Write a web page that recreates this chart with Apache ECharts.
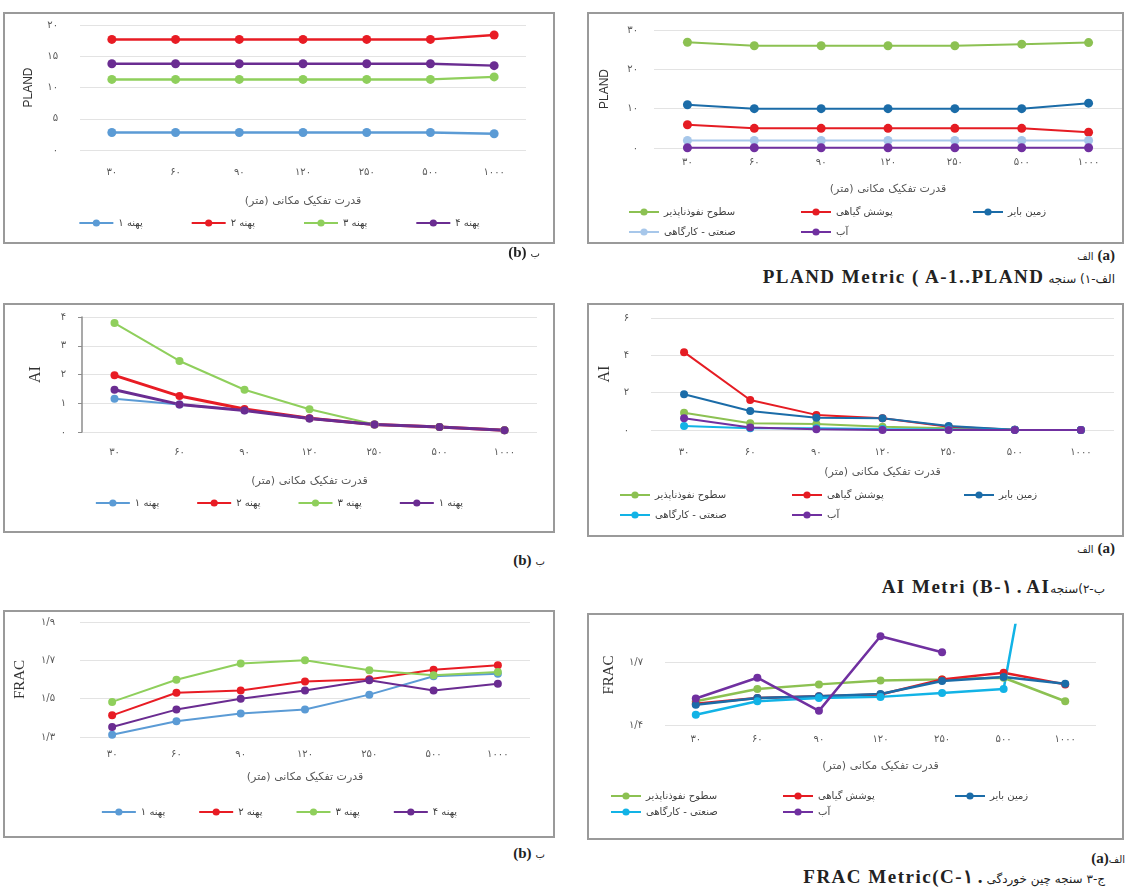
<!DOCTYPE html>
<html>
<head>
<meta charset="utf-8">
<script src="https://cdn.jsdelivr.net/npm/echarts@6/dist/echarts.min.js"></script>
<style>
  body { margin: 0; background: #fff; width: 1125px; height: 887px; position: relative; overflow: hidden; }
  .chart { position: absolute; direction: rtl; }
  .frame { position: absolute; border: 2px solid #9a9a9a; box-sizing: border-box; pointer-events: none; }
  .txt { position: absolute; white-space: nowrap; color: #222; line-height: 22px; }
  .lat { font-family: 'Liberation Serif'; font-weight: bold; font-size: 15px; }
  .big { font-size: 19px; letter-spacing: 1.5px; }
  .fa { font-family: 'DejaVu Sans'; font-size: 10px; unicode-bidi: isolate; }
  .fa12 { font-size: 12px; }
</style>
</head>
<body>
<div id="c1" class="chart"></div>
<div id="c2" class="chart"></div>
<div id="c3" class="chart"></div>
<div id="c4" class="chart"></div>
<div id="c5" class="chart"></div>
<div id="c6" class="chart"></div>

<div class="txt" style="right:585px;top:241px"><span class="lat">(b)</span> <span class="fa" dir="rtl">ب</span></div>
<div class="txt" style="right:10px;top:244px"><span class="fa" dir="rtl">الف</span> <span class="lat">(a)</span></div>
<div class="txt" style="right:10px;top:266px"><span class="lat big">PLAND Metric ( A-1..PLAND</span> <span class="fa fa12" dir="rtl">الف-۱) سنجه</span></div>

<div class="txt" style="right:580px;top:549px"><span class="lat">(b)</span> <span class="fa" dir="rtl">ب</span></div>
<div class="txt" style="right:10px;top:537px"><span class="fa" dir="rtl">الف</span> <span class="lat">(a)</span></div>
<div class="txt" style="right:20px;top:576px"><span class="lat big">AI Metri (B-۱ . AI</span><span class="fa fa12" dir="rtl">ب-۲)سنجه</span></div>

<div class="txt" style="right:580px;top:842px"><span class="lat">(b)</span> <span class="fa" dir="rtl">ب</span></div>
<div class="txt" style="right:0px;top:847px"><span class="lat">(a)</span><span class="fa" dir="rtl">الف</span></div>
<div class="txt" style="right:20px;top:866px"><span class="lat big">FRAC Metric(C-۱ .</span> <span class="fa fa12" dir="rtl">ج-۳ سنجه چین خوردگی</span></div>

<script>
// ---- data ----
const xCats = ['۳۰', '۶۰', '۹۰', '۱۲۰', '۲۵۰', '۵۰۰', '۱۰۰۰'];
const zoneNames = ['پهنه ۱', 'پهنه ۲', 'پهنه ۳', 'پهنه ۴'];
const landNames = ['سطوح نفوذناپذیر', 'پوشش گیاهی', 'زمین بایر', 'صنعتی - کارگاهی', 'آب'];
const xName = 'قدرت تفکیک مکانی (متر)';

// PLAND (b) zones
const plandZone1 = [2.8, 2.8, 2.8, 2.8, 2.8, 2.8, 2.6];
const plandZone2 = [17.7, 17.7, 17.7, 17.7, 17.7, 17.7, 18.4];
const plandZone3 = [11.3, 11.3, 11.3, 11.3, 11.3, 11.3, 11.7];
const plandZone4 = [13.8, 13.8, 13.8, 13.8, 13.8, 13.8, 13.5];

// PLAND (a) land cover
const plandImperv = [26.9, 26.0, 26.0, 26.0, 26.0, 26.4, 26.8];
const plandVeg = [5.9, 5.0, 5.0, 5.0, 5.0, 5.0, 4.0];
const plandBare = [11.0, 10.0, 10.0, 10.0, 10.0, 10.0, 11.4];
const plandInd = [1.9, 1.9, 1.9, 1.9, 1.9, 1.9, 1.9];
const plandWater = [0.05, 0.05, 0.05, 0.05, 0.05, 0.05, 0.05];

// AI (b) zones
const aiZone1 = [1.16, 0.96, 0.76, 0.47, 0.26, 0.17, 0.06];
const aiZone2 = [1.97, 1.25, 0.8, 0.48, 0.26, 0.17, 0.06];
const aiZone3 = [3.79, 2.47, 1.47, 0.79, 0.26, 0.17, 0.06];
const aiZone4 = [1.47, 0.96, 0.75, 0.47, 0.26, 0.17, 0.06];

// AI (a) land cover
const aiImperv = [0.93, 0.36, 0.32, 0.18, 0.09, 0.02, 0];
const aiVeg = [4.17, 1.61, 0.81, 0.63, 0.18, 0.02, 0];
const aiBare = [1.92, 1.02, 0.66, 0.63, 0.21, 0.02, 0];
const aiInd = [0.21, 0.09, 0.09, 0.05, 0.03, 0.01, 0];
const aiWater = [0.63, 0.14, 0.04, 0, 0, 0, 0];

// FRAC (b) zones
const fracZone1 = [1.312, 1.382, 1.422, 1.443, 1.521, 1.617, 1.630];
const fracZone2 = [1.413, 1.531, 1.543, 1.590, 1.601, 1.651, 1.674];
const fracZone3 = [1.483, 1.599, 1.683, 1.700, 1.648, 1.622, 1.639];
const fracZone4 = [1.352, 1.443, 1.500, 1.543, 1.596, 1.543, 1.578];

// FRAC (a) land cover
const fracImperv = [1.514, 1.573, 1.595, 1.614, 1.619, 1.627, 1.514];
const fracVeg = [1.502, 1.530, 1.538, 1.546, 1.619, 1.651, 1.595];
const fracBare = [1.497, 1.530, 1.538, 1.549, 1.611, 1.630, 1.598];
const fracInd = [1.449, 1.514, 1.530, 1.535, 1.554, 1.573, 3.2];
const fracWater = [1.527, 1.627, 1.468, 1.826, 1.749, null, null];

const zoneColors = ['#5b9bd5', '#e81c24', '#8fcf5c', '#6a2c91'];
const landColors = ['#8cc152', '#e51c23', '#1b6ca8', '#12b3e6', '#7030a0'];
const landColorsTop = ['#8cc152', '#e51c23', '#1b6ca8', '#a7c7ea', '#7030a0'];

// ---- helpers ----
const FA = '۰۱۲۳۴۵۶۷۸۹';
const fa = s => String(s).replace(/\d/g, d => FA[d]);
const grey = '#595959';
const faFont = 'DejaVu Sans';

function place(id, box) {
  const el = document.getElementById(id);
  el.style.left = box.x + 'px';
  el.style.top = box.y + 'px';
  el.style.width = box.w + 'px';
  el.style.height = box.h + 'px';
  const f = document.createElement('div');
  f.className = 'frame';
  f.style.left = box.x + 'px';
  f.style.top = box.y + 'px';
  f.style.width = box.w + 'px';
  f.style.height = box.h + 'px';
  document.body.appendChild(f);
  return el;
}

function line(name, data, color, width, size) {
  return {
    type: 'line', name: name, data: data, color: color,
    symbol: 'circle', symbolSize: size, connectNulls: false,
    lineStyle: { width: width, color: color },
    itemStyle: { color: color },
    emphasis: { disabled: true }
  };
}

function draw(id, cfg) {
  const b = cfg.box, g = cfg.grid;
  const el = place(id, b);
  const chart = echarts.init(el, null, { renderer: 'canvas' });
  const option = {
    animation: false,
    grid: { left: g.x0 - b.x, right: b.x + b.w - g.x1, top: g.y0 - b.y, bottom: b.y + b.h - g.y1, containLabel: false },
    xAxis: {
      type: 'category', data: xCats, boundaryGap: true,
      axisLine: { show: false }, axisTick: { show: false },
      axisLabel: { margin: cfg.xMargin, color: grey, fontSize: 10, fontFamily: faFont },
      name: xName, nameLocation: 'middle', nameGap: cfg.xNameGap,
      nameTextStyle: { color: grey, fontSize: 11, fontFamily: faFont }
    },
    yAxis: {
      type: 'value', min: cfg.y.min, max: cfg.y.max, interval: cfg.y.interval,
      axisLine: { show: !!cfg.y.axisLine, lineStyle: { color: '#8c8c8c', width: 1.5 } },
      axisTick: { show: !!cfg.y.axisLine, length: 4, lineStyle: { color: '#8c8c8c' } },
      axisLabel: { margin: cfg.y.margin, color: grey, fontSize: 10, fontFamily: faFont, formatter: cfg.y.fmt, showMaxLabel: cfg.y.showMax !== false },
      splitLine: { lineStyle: { color: '#e3e3e3', width: 1 }, showMaxLine: cfg.y.showMax !== false },
      name: cfg.y.name, nameLocation: 'middle', nameRotate: 90, nameGap: cfg.y.nameGap,
      nameTextStyle: { color: '#333', fontSize: cfg.y.nameSize, fontFamily: cfg.y.nameFont }
    },
    legend: cfg.legends,
    series: cfg.series
  };
  chart.setOption(option);
}

const intFmt = v => fa(v);
const decFmt = v => fa((Math.round(v * 10) / 10).toFixed(1)).replace('.', '/');

function zoneLegend(top, gap, fmt) {
  return [{
    top: top, left: 'center', padding: 0, itemWidth: 34, itemHeight: 9, itemGap: gap,
    data: zoneNames, formatter: fmt,
    textStyle: { fontFamily: faFont, fontSize: 10, lineHeight: 12, color: '#404040' }
  }];
}
// three columns, two rows: [imperv, industrial], [vegetation, water], [bare]
function landLegend(left, top, rowGap) {
  const ts = { fontFamily: faFont, fontSize: 10, lineHeight: 12, color: '#404040' };
  const cols = [[landNames[0], landNames[3]], [landNames[1], landNames[4]], [landNames[2]]];
  return cols.map((d, i) => ({
    orient: 'vertical', top: top, left: left + i * 172, padding: 0,
    itemWidth: 30, itemHeight: 9, itemGap: rowGap - 12, data: d, textStyle: ts
  }));
}

// ---- PLAND (b) ----
draw('c1', {
  box: { x: 3, y: 12, w: 552, h: 232 },
  grid: { x0: 80, x1: 526, y0: 25, y1: 150 },
  xMargin: 17, xNameGap: 46,
  y: { min: 0, max: 20, interval: 5, margin: 22, fmt: intFmt, name: 'PLAND', nameGap: 45, nameSize: 12, nameFont: 'Liberation Sans Narrow, Liberation Sans' },
  legends: zoneLegend(205, 48),
  series: [
    line(zoneNames[0], plandZone1, zoneColors[0], 2.5, 9),
    line(zoneNames[1], plandZone2, zoneColors[1], 2.5, 9),
    line(zoneNames[2], plandZone3, zoneColors[2], 2.5, 9),
    line(zoneNames[3], plandZone4, zoneColors[3], 2.5, 9)
  ]
});

// ---- PLAND (a) ----
draw('c2', {
  box: { x: 587, y: 12, w: 537, h: 232 },
  grid: { x0: 654, x1: 1122, y0: 30, y1: 148 },
  xMargin: 9, xNameGap: 36,
  y: { min: 0, max: 30, interval: 10, margin: 16, fmt: intFmt, name: 'PLAND', nameGap: 43, nameSize: 12, nameFont: 'Liberation Sans Narrow, Liberation Sans' },
  legends: landLegend(628 - 587, 194, 20),
  series: [
    line(landNames[0], plandImperv, landColorsTop[0], 2, 9),
    line(landNames[1], plandVeg, landColorsTop[1], 2, 9),
    line(landNames[2], plandBare, landColorsTop[2], 2, 9),
    line(landNames[3], plandInd, landColorsTop[3], 2, 9),
    line(landNames[4], plandWater, landColorsTop[4], 2, 9)
  ]
});

// ---- AI (b) ----
draw('c3', {
  box: { x: 3, y: 303, w: 552, h: 230 },
  grid: { x0: 82, x1: 537, y0: 317, y1: 432 },
  xMargin: 15, xNameGap: 44,
  y: { min: 0, max: 4, interval: 1, margin: 16, fmt: intFmt, axisLine: true, name: 'AI', nameGap: 38, nameSize: 16, nameFont: 'Liberation Serif' },
  legends: zoneLegend(194, 37, n => (n === zoneNames[3] ? zoneNames[0] : n)),
  series: [
    line(zoneNames[0], aiZone1, zoneColors[0], 2, 8),
    line(zoneNames[1], aiZone2, zoneColors[1], 3, 8),
    line(zoneNames[2], aiZone3, zoneColors[2], 2, 8),
    line(zoneNames[3], aiZone4, zoneColors[3], 3, 8)
  ]
});

// ---- AI (a) ----
draw('c4', {
  box: { x: 587, y: 303, w: 537, h: 234 },
  grid: { x0: 651, x1: 1114, y0: 318, y1: 430 },
  xMargin: 17, xNameGap: 37,
  y: { min: 0, max: 6, interval: 2, margin: 22, fmt: intFmt, name: 'AI', nameGap: 36, nameSize: 16, nameFont: 'Liberation Serif' },
  legends: landLegend(619 - 587, 186, 20),
  series: [
    line(landNames[0], aiImperv, landColors[0], 2, 8),
    line(landNames[1], aiVeg, landColors[1], 2, 8),
    line(landNames[2], aiBare, landColors[2], 2, 8),
    line(landNames[3], aiInd, landColors[3], 2, 8),
    line(landNames[4], aiWater, landColors[4], 2, 8)
  ]
});

// ---- FRAC (b) ----
draw('c5', {
  box: { x: 3, y: 610, w: 552, h: 228 },
  grid: { x0: 80, x1: 530, y0: 622, y1: 737 },
  xMargin: 12, xNameGap: 35,
  y: { min: 1.3, max: 1.9, interval: 0.2, margin: 25, fmt: decFmt, name: 'FRAC', nameGap: 52, nameSize: 15, nameFont: 'Liberation Serif' },
  legends: zoneLegend(196, 33),
  series: [
    line(zoneNames[0], fracZone1, zoneColors[0], 2, 8),
    line(zoneNames[1], fracZone2, zoneColors[1], 2, 8),
    line(zoneNames[2], fracZone3, zoneColors[2], 2, 8),
    line(zoneNames[3], fracZone4, zoneColors[3], 2, 8)
  ]
});

// ---- FRAC (a) ----
draw('c6', {
  box: { x: 587, y: 613, w: 537, h: 227 },
  grid: { x0: 665, x1: 1096, y0: 625, y1: 725 },
  xMargin: 9, xNameGap: 36,
  y: { min: 1.4, max: 1.88, interval: 0.3, margin: 22, showMax: false,
       fmt: v => (Math.abs(v - 1.4) < 1e-6 || Math.abs(v - 1.7) < 1e-6 ? decFmt(v) : ''),
       name: 'FRAC', nameGap: 48, nameSize: 15, nameFont: 'Liberation Serif' },
  legends: landLegend(610 - 587, 177, 16),
  series: [
    line(landNames[0], fracImperv, landColors[0], 2.5, 8),
    line(landNames[1], fracVeg, landColors[1], 2.5, 8),
    line(landNames[2], fracBare, landColors[2], 2.5, 8),
    line(landNames[3], fracInd, landColors[3], 2.5, 8),
    line(landNames[4], fracWater, landColors[4], 2.5, 8)
  ]
});
</script>
</body>
</html>
